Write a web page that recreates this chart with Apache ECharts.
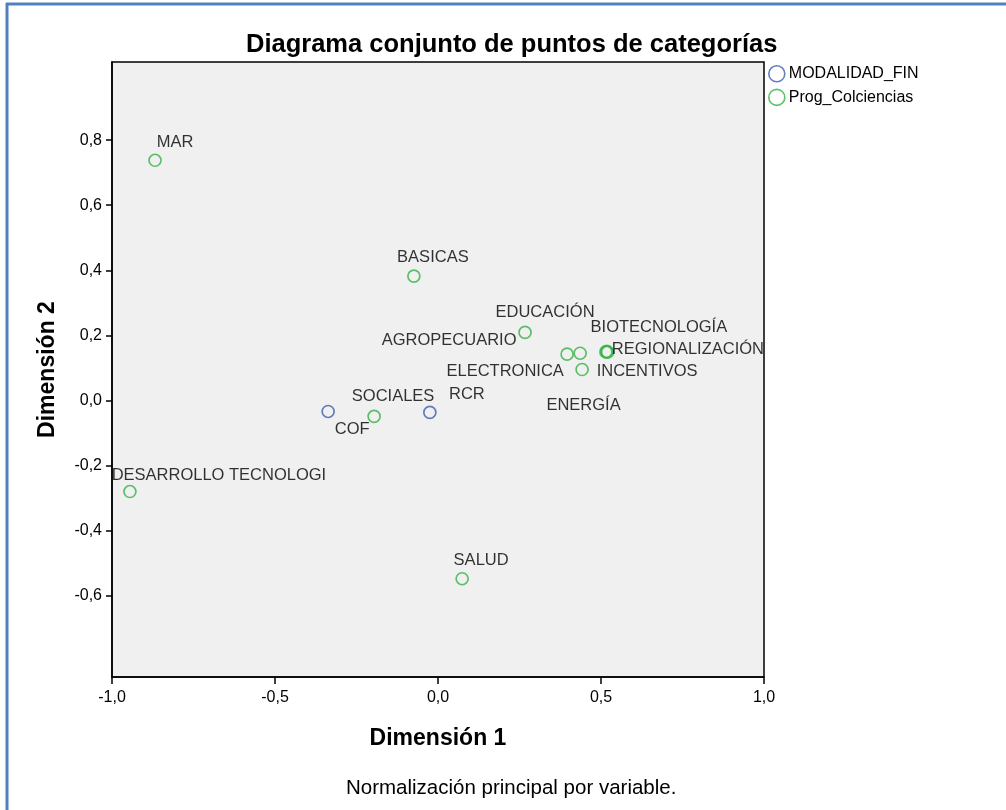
<!DOCTYPE html>
<html>
<head>
<meta charset="utf-8">
<script src="https://cdn.jsdelivr.net/npm/echarts@6/dist/echarts.min.js"></script>
<style>
  html, body { margin: 0; padding: 0; background: #fff; }
  #chart { width: 1006px; height: 810px; }
</style>
</head>
<body>
<div id="chart"></div>
<script>
// Prog_Colciencias (verde)
var progNames = ['MAR', 'BASICAS', 'EDUCACIÓN', 'AGROPECUARIO', 'ELECTRONICA', 'BIOTECNOLOGÍA',
	'REGIONALIZACIÓN', 'INCENTIVOS', 'ENERGÍA', 'SOCIALES', 'SALUD', 'DESARROLLO TECNOLOGI'];
var progDim1 = [-0.868, -0.074, 0.267, 0.396, 0.436, 0.518, 0.515, 0.442, 0.520, -0.196, 0.074, -0.945];
var progDim2 = [0.738, 0.382, 0.209, 0.142, 0.145, 0.151, 0.149, 0.095, 0.148, -0.049, -0.548, -0.280];

// MODALIDAD_FIN (azul)
var modNames = ['COF', 'RCR'];
var modDim1 = [-0.337, -0.025];
var modDim2 = [-0.034, -0.037];

var yTicks = [-0.6, -0.4, -0.2, 0.0, 0.2, 0.4, 0.6, 0.8];
var xTicks = [-1.0, -0.5, 0.0, 0.5, 1.0];

// desplazamiento de las etiquetas (px, centro del texto respecto al punto)
var labelOffsets = {
	'MAR': [20, -18],
	'BASICAS': [19, -19],
	'EDUCACIÓN': [20, -20],
	'AGROPECUARIO': [-118, -14],
	'ELECTRONICA': [-75, 18],
	'BIOTECNOLOGÍA': [52, -24],
	'REGIONALIZACIÓN': [82, -2],
	'INCENTIVOS': [65, 2],
	'ENERGÍA': [-24, 53],
	'SOCIALES': [19, -20],
	'SALUD': [19, -18],
	'DESARROLLO TECNOLOGI': [89, -16],
	'COF': [24, 18],
	'RCR': [37, -18]
};

var BLUE = '#3f5fae';
var GREEN = '#35b346';
var FONT = 'Liberation Sans, Arial, sans-serif';

var buildPoints = function(names, xs, ys) {
	var out = [];
	for (var i = 0; i < names.length; i++) {
		out.push({
			name: names[i],
			value: [xs[i], ys[i]],
			label: { offset: labelOffsets[names[i]] || [0, -18] }
		});
	}
	return out;
};

var commaFmt = function(v) {
	return v.toFixed(1).replace('.', ',');
};

var pointSeries = function(name, color, data) {
	return {
		name: name,
		type: 'scatter',
		symbol: 'circle',
		symbolSize: 12,
		data: data,
		itemStyle: {
			color: 'rgba(0,0,0,0)',
			borderColor: color,
			borderWidth: 1.7
		},
		label: {
			show: true,
			position: 'inside',
			formatter: '{b}',
			color: '#000',
			fontFamily: FONT,
			fontSize: 16.5
		},
		emphasis: { disabled: true }
	};
};

var chart = echarts.init(document.getElementById('chart'));
var option = {
	backgroundColor: '#fff',
	animation: false,
	title: [{
		text: 'Diagrama conjunto de puntos de categorías',
		left: 241,
		top: 27,
		textStyle: { fontFamily: FONT, fontSize: 25.5, fontWeight: 'bold', color: '#000' }
	}, {
		text: 'Normalización principal por variable.',
		left: 341,
		top: 773,
		textStyle: { fontFamily: FONT, fontSize: 20.5, fontWeight: 'normal', color: '#000' }
	}],
	legend: {
		orient: 'vertical',
		left: 763,
		top: 60,
		itemWidth: 16,
		itemHeight: 16,
		itemGap: 6,
		textStyle: { fontFamily: FONT, fontSize: 16, color: '#000', padding: [0, 0, 0, -1] },
		data: [
			{ name: 'MODALIDAD_FIN', icon: 'circle', itemStyle: { color: 'rgba(0,0,0,0)', borderColor: BLUE, borderWidth: 1.6 } },
			{ name: 'Prog_Colciencias', icon: 'circle', itemStyle: { color: 'rgba(0,0,0,0)', borderColor: GREEN, borderWidth: 1.6 } }
		]
	},
	grid: {
		left: 112,
		top: 62,
		width: 652,
		height: 615,
		show: true,
		backgroundColor: '#f0f0f0',
		borderColor: '#000',
		borderWidth: 1.5
	},
	xAxis: {
		type: 'value',
		min: -1,
		max: 1,
		name: 'Dimensión 1',
		nameLocation: 'middle',
		nameGap: 50,
		nameTextStyle: { fontFamily: FONT, fontSize: 23, fontWeight: 'bold', color: '#000' },
		axisLine: { show: true, onZero: false, lineStyle: { color: '#000', width: 1.5 } },
		axisTick: { show: true, customValues: xTicks, length: 7, lineStyle: { color: '#000', width: 1.5 } },
		axisLabel: { customValues: xTicks, formatter: commaFmt, margin: 13, fontFamily: FONT, fontSize: 16, color: '#000' },
		splitLine: { show: false }
	},
	yAxis: {
		type: 'value',
		min: -0.85,
		max: 1.04,
		name: 'Dimensión 2',
		nameLocation: 'middle',
		nameGap: 53,
		nameTextStyle: { fontFamily: FONT, fontSize: 23, fontWeight: 'bold', color: '#000' },
		axisLine: { show: true, onZero: false, lineStyle: { color: '#000', width: 1.5 } },
		axisTick: { show: true, customValues: yTicks, length: 6, lineStyle: { color: '#000', width: 1.5 } },
		axisLabel: { customValues: yTicks, formatter: commaFmt, margin: 10, fontFamily: FONT, fontSize: 16, color: '#000' },
		splitLine: { show: false }
	},
	graphic: [{
		type: 'line',
		shape: { x1: 6, y1: 4, x2: 1006, y2: 4 },
		style: { stroke: '#4f81bd', lineWidth: 3 }
	}, {
		type: 'line',
		shape: { x1: 7, y1: 3, x2: 7, y2: 810 },
		style: { stroke: '#4f81bd', lineWidth: 3 }
	}],
	series: [
		pointSeries('MODALIDAD_FIN', BLUE, buildPoints(modNames, modDim1, modDim2)),
		pointSeries('Prog_Colciencias', GREEN, buildPoints(progNames, progDim1, progDim2))
	]
};
chart.setOption(option);
</script>
</body>
</html>
